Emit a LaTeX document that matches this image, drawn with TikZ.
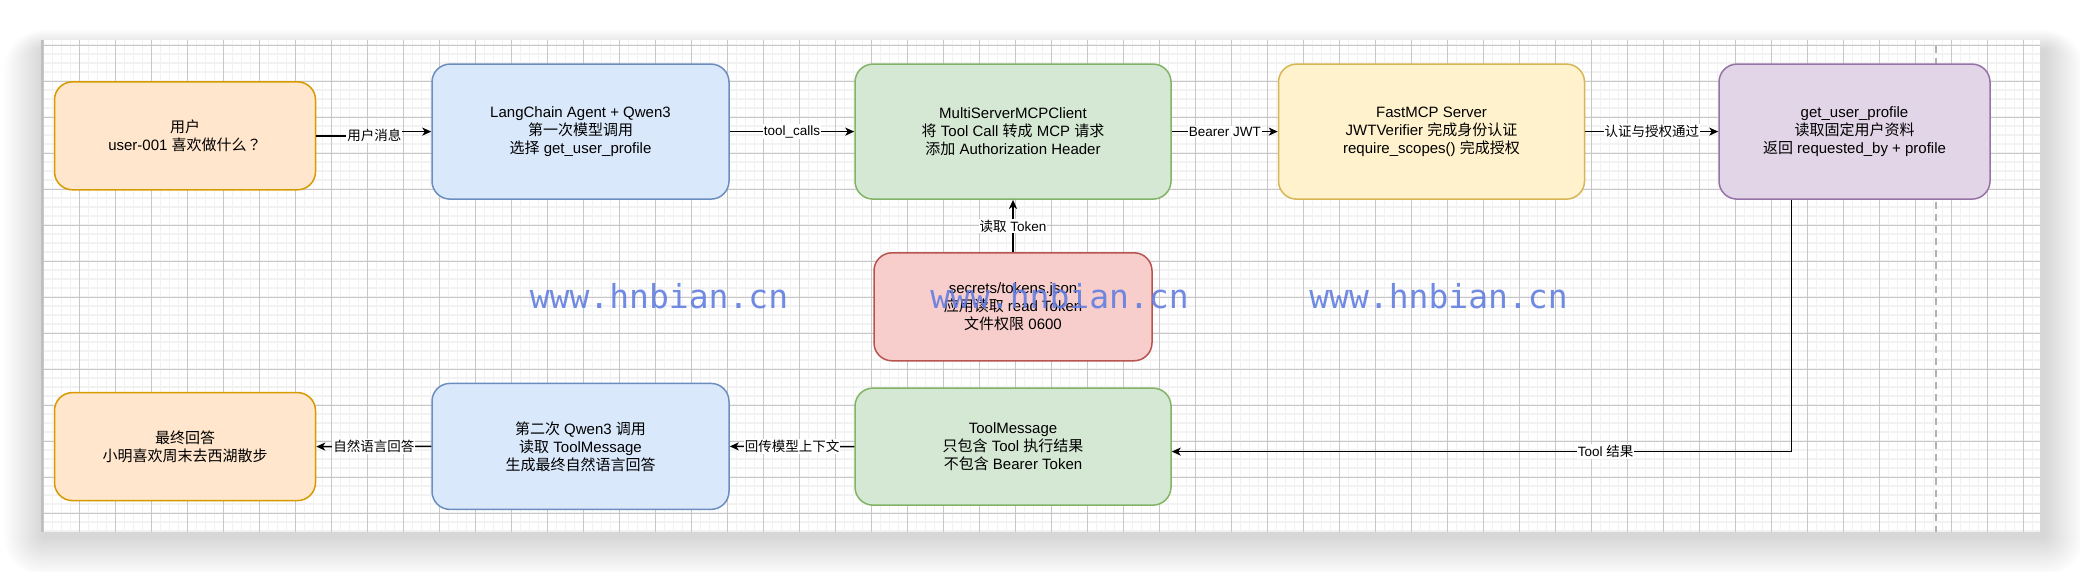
\documentclass[tikz,border=0pt]{standalone}
\usepackage{fontspec}
\setmainfont{Liberation Sans}
\newfontfamily\zhfont{Noto Sans CJK SC}
\newfontfamily\zhtcfont{Noto Sans CJK TC}
\newfontfamily\wmfont{DejaVu Sans Mono}
\newcommand{\zh}[1]{{\zhfont #1}}
\usetikzlibrary{arrows.meta,calc}
\definecolor{orangefill}{RGB}{255,230,204}
\definecolor{orangeedge}{RGB}{215,155,0}
\definecolor{bluefill}{RGB}{218,232,252}
\definecolor{blueedge}{RGB}{108,142,191}
\definecolor{greenfill}{RGB}{213,232,212}
\definecolor{greenedge}{RGB}{130,179,102}
\definecolor{yellowfill}{RGB}{255,242,204}
\definecolor{yellowedge}{RGB}{214,182,86}
\definecolor{purplefill}{RGB}{225,213,231}
\definecolor{purpleedge}{RGB}{150,115,166}
\definecolor{redfill}{RGB}{248,206,204}
\definecolor{rededge}{RGB}{184,84,80}
\definecolor{wmblue}{RGB}{98,126,224}

\tikzset{
  box/.style={draw, rounded corners=18pt, line width=1.5pt, align=center,
    inner sep=0pt, font=\fontsize{15}{18}\selectfont},
  flow/.style={-{Stealth[length=9pt,width=8pt,inset=2.5pt]}, line width=1.6pt},
  lbl/.style={fill=white, inner sep=1pt, font=\fontsize{13.5}{16}\selectfont},
  gridminor/.style={black!5, line width=1.4pt},
  gridmajor/.style={black!22, line width=0.9pt},
  wmark/.style={anchor=base, text=wmblue, opacity=0.9, font=\wmfont\fontsize{33}{33}\selectfont}
}

\begin{document}
\begin{tikzpicture}[x=1pt,y=-1pt]
  \useasboundingbox (0,0) rectangle (2080,572);
  \fill[white] (0,0) rectangle (2080,572);
  \foreach \s in {2,4,...,40}
    \fill[black,opacity=0.007,rounded corners=\s pt] (44-\s,50-0.5*\s) rectangle (2044+\s,536+\s);
  \fill[white] (42,40) rectangle (2040,532);
  \foreach \gx in {43.5,52.5,...,2039}
    \draw[gridminor] (\gx,40) -- (\gx,532);
  \foreach \gy in {45,54,...,531}
    \draw[gridminor] (42,\gy) -- (2040,\gy);
  \foreach \gx in {43.5,79.5,...,2039}
    \draw[gridmajor] (\gx,40) -- (\gx,532);
  \foreach \gy in {45,81,...,531}
    \draw[gridmajor] (42,\gy) -- (2040,\gy);
  \draw[black!25,line width=2pt] (42,40) -- (42,532);
  \draw[black!30,line width=1.5pt,dash pattern=on 7pt off 5pt] (1936,46) -- (1936,532);

  \node[box, fill=orangefill, draw=orangeedge, minimum width=261pt, minimum height=108pt]
    (user) at (185,135.8) {\zh{用户}\\user-001 \zh{喜欢做什么}{\zhtcfont ？}};
  \node[box, fill=bluefill, draw=blueedge, minimum width=297pt, minimum height=135pt]
    (agent) at (580.5,131.6) {LangChain Agent + Qwen3\\\zh{第一次模型调用}\\\zh{选择} get\_user\_profile};
  \node[box, fill=greenfill, draw=greenedge, minimum width=316pt, minimum height=135pt]
    (client) at (1013,131.6) {MultiServerMCPClient\\\zh{将} Tool Call \zh{转成} MCP \zh{请求}\\\zh{添加} Authorization Header};
  \node[box, fill=yellowfill, draw=yellowedge, minimum width=306pt, minimum height=135pt]
    (server) at (1431.5,131.6) {FastMCP Server\\JWTVerifier \zh{完成身份认证}\\require\_scopes() \zh{完成授权}};
  \node[box, fill=purplefill, draw=purpleedge, minimum width=271pt, minimum height=135pt]
    (profile) at (1854.5,131.6) {get\_user\_profile\\\zh{读取固定用户资料}\\\zh{返回} requested\_by + profile};
  \node[box, fill=redfill, draw=rededge, minimum width=278pt, minimum height=108pt]
    (tokens) at (1013,306.8) {secrets/tokens.json\\\zh{应用读取} read Token\\\zh{文件权限} 0600};
  \node[box, fill=orangefill, draw=orangeedge, minimum width=261pt, minimum height=108pt]
    (answer) at (185,446.6) {\zh{最终回答}\\\zh{小明喜欢周末去西湖散步}};
  \node[box, fill=bluefill, draw=blueedge, minimum width=297pt, minimum height=126pt]
    (second) at (580.5,446.4) {\zh{第二次} Qwen3 \zh{调用}\\\zh{读取} ToolMessage\\\zh{生成最终自然语言回答}};
  \node[box, fill=greenfill, draw=greenedge, minimum width=316pt, minimum height=117pt]
    (toolmsg) at (1013,446.6) {ToolMessage\\\zh{只包含} Tool \zh{执行结果}\\\zh{不包含} Bearer Token};

  \draw[flow] (user.east) -- ++(58.2,0) node[lbl]{\zh{用户消息}} |- (agent.west);
  \draw[flow] (agent.east) -- node[lbl]{tool\_calls} (client.west);
  \draw[flow] (client.east) -- node[lbl]{Bearer JWT} (server.west);
  \draw[flow] (server.east) -- node[lbl]{\zh{认证与授权通过}} (profile.west);
  \draw[flow] (tokens.north) -- node[lbl]{\zh{读取} Token} (client.south);
  \draw[flow] ([xshift=-63pt]profile.south) |- node[lbl,pos=0.65]{Tool \zh{结果}} ([yshift=-5pt]toolmsg.east);
  \draw[flow] (toolmsg.west) -- node[lbl]{\zh{回传模型上下文}} (second.east);
  \draw[flow] (second.west) -- node[lbl]{\zh{自然语言回答}} (answer.east);

  \node[wmark] (wm1) at (659,308) {www.hnbian.cn};
  \node[wmark] (wm2) at (1059.5,308) {www.hnbian.cn};
  \node[wmark] (wm3) at (1438.5,308) {www.hnbian.cn};
\end{tikzpicture}
\end{document}
